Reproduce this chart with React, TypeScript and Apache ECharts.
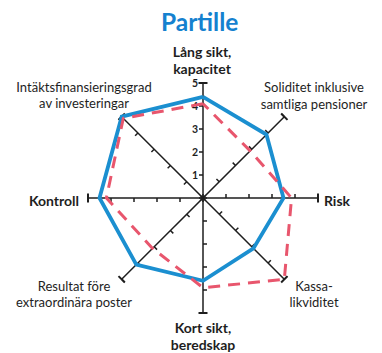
import React, { useEffect, useRef } from 'react';
import * as echarts from 'echarts';

const titleText = 'Partille';
const axisNames = [
  'Lång sikt,\nkapacitet',
  'Intäktsfinansieringsgrad\nav investeringar',
  'Kontroll',
  'Resultat före\nextraordinära poster',
  'Kort sikt,\nberedskap',
  'Kassa-\nlikviditet',
  'Risk',
  'Soliditet inklusive\nsamtliga pensioner',
];
const boldAxes = [true, false, true, false, true, false, true, false];
const axisMin = 0;
const axisMax = 5;
const tickInterval = 1;
const partilleValues = [4.4, 5.0, 4.5, 4.1, 3.6, 3.1, 3.5, 3.9];
const comparisonValues = [4.1, 4.9, 4.2, 3.1, 3.9, 5.0, 3.85, 2.9];

const FONT = 'Lato';
const INK = '#1e1e1e';

export default function App() {
  const ref = useRef<HTMLDivElement>(null);
  useEffect(() => {
    if (!ref.current) return;
    const chart = echarts.init(ref.current, undefined, { renderer: 'svg' });
    const center = [203, 198];
    const radius = 115;
    const labelPos: [number, number, number][] = [
      [202, 60, 16.5],
      [84, 95, 16],
      [54, 200, 16],
      [74, 294, 16],
      [203, 335.5, 17],
      [314, 294, 16],
      [337, 200, 16],
      [314, 95.5, 16.5],
    ];
    chart.setOption({
      animation: false,
      backgroundColor: '#ffffff',
      title: {
        text: titleText,
        left: 156,
        top: 4,
        textStyle: { fontFamily: FONT, fontSize: 24.5, fontWeight: 'bold', color: '#1581cf' },
      },
      polar: { center, radius },
      angleAxis: { show: false, startAngle: 90, min: 0, max: 360 },
      radiusAxis: {
        min: axisMin,
        max: axisMax,
        interval: tickInterval,
        axisLine: { show: false },
        axisTick: { show: false },
        splitLine: { show: false },
        axisLabel: {
          show: true,
          fontFamily: FONT,
          fontSize: 10.5,
          fontWeight: 'bold',
          color: INK,
          margin: 5,
          formatter: (v: number) => (v === 0 ? '' : String(v)),
        },
      },
      radar: {
        center,
        radius,
        startAngle: 90,
        splitNumber: 5,
        shape: 'polygon',
        indicator: axisNames.map((n) => ({ name: n, min: axisMin, max: axisMax })),
        axisName: { show: false },
        axisLine: {
          lineStyle: { color: INK, width: 1.5 },
          symbol: ['none', 'rect'],
          symbolSize: [9, 2],
        },
        axisTick: { show: true, length: 4, lineStyle: { color: INK, width: 1.5 } },
        splitLine: { show: false },
        splitArea: { show: false },
      },
      series: [
        {
          type: 'radar',
          symbol: 'none',
          data: [
            {
              value: partilleValues,
              name: 'Partille',
              lineStyle: { color: '#1b8fd0', width: 3.8, join: 'miter' },
            },
            {
              value: comparisonValues,
              name: 'Jämförelse',
              lineStyle: { color: '#e8566d', width: 3, type: [12, 8] },
            },
          ],
        },
      ],
      graphic: axisNames.map((n, i) => ({
        type: 'text',
        x: labelPos[i][0],
        y: labelPos[i][1],
        style: {
          text: n,
          align: 'center',
          verticalAlign: 'middle',
          fontFamily: FONT,
          fontSize: boldAxes[i] ? 14 : 13,
          fontWeight: boldAxes[i] ? 'bold' : 'normal',
          lineHeight: labelPos[i][2],
          fill: INK,
        },
      })),
    });
    return () => chart.dispose();
  }, []);
  return (
    <div
      ref={ref}
      style={{ position: 'fixed', left: 0, top: 0, width: 382, height: 353, background: '#fff' }}
    />
  );
}
